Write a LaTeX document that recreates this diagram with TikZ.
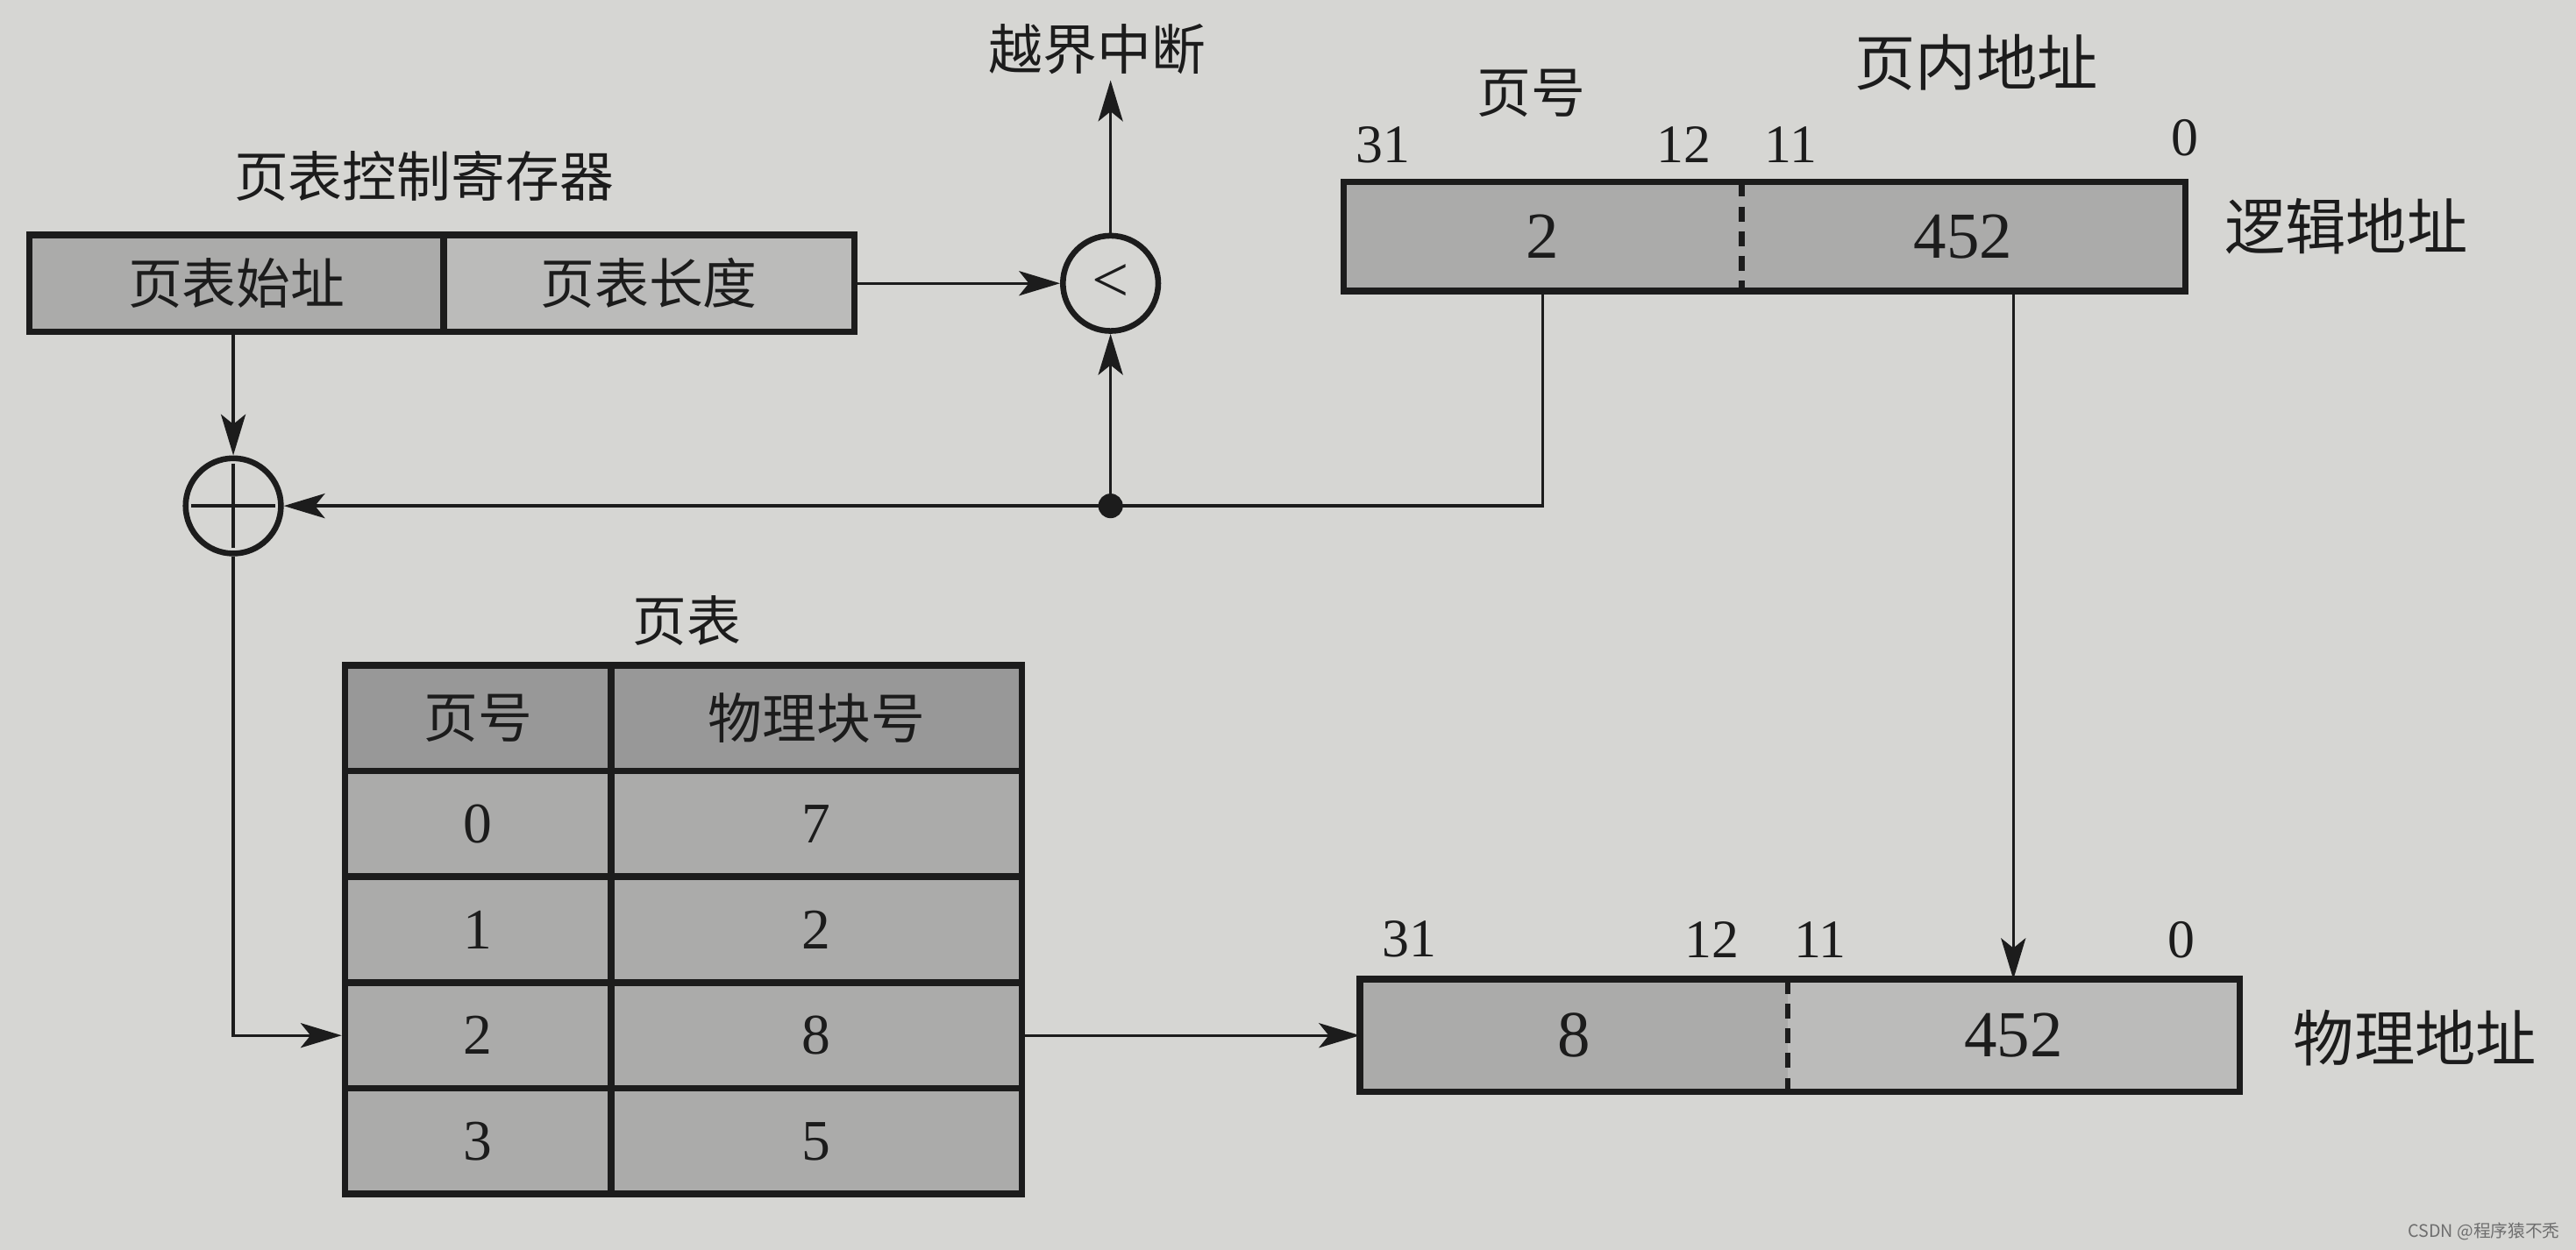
\documentclass[tikz,border=0pt]{standalone}
\usepackage{fontspec}
\setmainfont{Liberation Serif}
\newfontfamily\cjk{Noto Sans CJK SC}
\usepackage{tikz}
\usetikzlibrary{arrows.meta,positioning,calc}
\definecolor{paper}{HTML}{D6D6D3}
\definecolor{ink}{HTML}{1C1C1C}
\definecolor{celldark}{HTML}{989898}
\definecolor{cellmid}{HTML}{ABABAA}
\definecolor{celllight}{HTML}{BBBBBA}
\definecolor{wmgray}{HTML}{6E6E6E}

\begin{document}
\begin{tikzpicture}[x=1pt,y=-1pt,color=ink,
 cn/.style={font=\cjk\fontsize{33}{36}\selectfont},
 cnbig/.style={font=\cjk\fontsize{37}{40}\selectfont},
 bit/.style={font=\fontsize{33}{36}\selectfont},
 num/.style={font=\fontsize{40}{44}\selectfont},
 tnum/.style={font=\fontsize{35}{38}\selectfont},
 cell/.style={draw=ink,line width=4pt,inner sep=0pt,minimum height=64.4pt},
 field/.style={inner sep=0pt,minimum height=66pt,num},
 frame/.style={draw=ink,line width=4pt},
 divider/.style={draw=ink,line width=3.5pt,dash pattern=on 9pt off 6pt},
 ring/.style={circle,draw=ink,line width=3.5pt,minimum size=58pt,inner sep=0pt},
 dotnode/.style={circle,fill=ink,minimum size=15pt,inner sep=0pt},
 arr/.style={-{Stealth[length=25pt,width=15pt,inset=6pt]},line width=1.8pt,draw=ink},
 wire/.style={line width=1.8pt,draw=ink}]
\fill[paper] (0,0) rectangle (1568,761);
\useasboundingbox (0,0) rectangle (1568,761);
% page table control register
\node[cn] (reglabel) at (258,107) {页表控制寄存器};
\node[cell,fill=cellmid,minimum width=252pt,minimum height=59pt,cn] (regbase) at (144,172.5) {页表始址};
\node[cell,fill=celllight,minimum width=250pt,minimum height=59pt,cn] (reglen) at (395,172.5) {页表长度};
% compare and add
\node[ring,font=\fontsize{40}{40}\selectfont] (cmp) at (676,172.5) {<};
\node[cn] (intr) at (668,30) {越界中断};
\node[ring] (add) at (142,308) {};
\draw[wire] ([yshift=-5pt]add.north) -- ([yshift=5pt]add.south);
\draw[wire] ([xshift=5pt]add.west) -- ([xshift=-5pt]add.east);
\node[dotnode] (fork) at (676,308) {};
% logical address
\node[field,fill=cellmid,minimum width=242pt] (lpage) at (939,144) {2};
\node[field,fill=cellmid,minimum width=270pt] (loff) at (1195,144) {452};
\draw[frame] (lpage.north west) rectangle (loff.south east);
\draw[divider] (lpage.north east) -- (lpage.south east);
\node[bit] (l31) at (842,88) {31};
\node[bit] (l12) at (1025,88) {12};
\node[bit] (l11) at (1090,88) {11};
\node[bit] (l0) at (1330,84) {0};
\node[cn] (lpagelbl) at (932,57) {页号};
\node[cnbig] (lofflbl) at (1203,38) {页内地址};
\node[cnbig] (laddr) at (1428,138) {逻辑地址};
% page table
\node[cn] (tlabel) at (418,378) {页表};
\node[cell,fill=celldark,minimum width=162pt,cn] (tha) at (291,437.2) {页号};
\node[cell,fill=celldark,minimum width=250pt,cn] (thb) at (497,437.2) {物理块号};
\node[cell,fill=cellmid,minimum width=162pt,tnum] (t0a) at (291,501.6) {0};
\node[cell,fill=cellmid,minimum width=250pt,tnum] (t0b) at (497,501.6) {7};
\node[cell,fill=cellmid,minimum width=162pt,tnum] (t1a) at (291,566) {1};
\node[cell,fill=cellmid,minimum width=250pt,tnum] (t1b) at (497,566) {2};
\node[cell,fill=cellmid,minimum width=162pt,tnum] (t2a) at (291,630.4) {2};
\node[cell,fill=cellmid,minimum width=250pt,tnum] (t2b) at (497,630.4) {8};
\node[cell,fill=cellmid,minimum width=162pt,tnum] (t3a) at (291,694.8) {3};
\node[cell,fill=cellmid,minimum width=250pt,tnum] (t3b) at (497,694.8) {5};
% physical address
\node[field,fill=cellmid,minimum width=260pt,minimum height=68pt] (ppage) at (958,630.4) {8};
\node[field,fill=celllight,minimum width=275pt,minimum height=68pt] (poff) at (1225.5,630.4) {452};
\draw[frame] (ppage.north west) rectangle (poff.south east);
\draw[divider] (ppage.north east) -- (ppage.south east);
\node[bit] (p31) at (858,572) {31};
\node[bit] (p12) at (1042,572) {12};
\node[bit] (p11) at (1108,572) {11};
\node[bit] (p0) at (1328,572) {0};
\node[cnbig] (paddr) at (1470,632) {物理地址};
% connectors
\draw[arr] (reglen.east) -- (cmp.west);
\draw[arr] (cmp.north) -- (cmp.north |- intr.south);
\draw[arr] (fork) -- (cmp.south);
\draw[arr] (lpage.south) |- (add.east);
\draw[arr] (regbase.south -| add.north) -- (add.north);
\draw[arr] (add.south) |- (t2a.west);
\draw[arr] (t2b.east) -- (ppage.west);
\draw[arr] (poff.north |- loff.south) -- (poff.north);
\node[font=\cjk\fontsize{10.5}{12}\selectfont,text=wmgray] (wm) at (1512,750) {CSDN @程序猿不秃};
\end{tikzpicture}
\end{document}
